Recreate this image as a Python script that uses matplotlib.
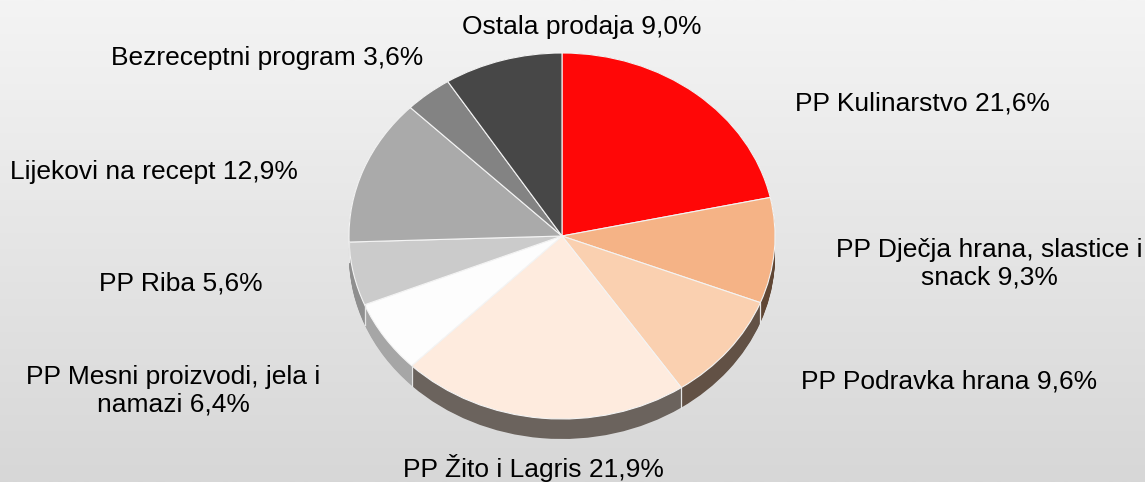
import numpy as np
import matplotlib.pyplot as plt
from matplotlib.colors import to_rgb, LinearSegmentedColormap

# podaci (udio u prodaji, %)
kategorije = ["PP Kulinarstvo", "PP Dječja hrana, slastice i snack", "PP Podravka hrana",
              "PP Žito i Lagris", "PP Mesni proizvodi, jela i namazi", "PP Riba",
              "Lijekovi na recept", "Bezreceptni program", "Ostala prodaja"]
udjeli = [21.6, 9.3, 9.6, 21.9, 6.4, 5.6, 12.9, 3.6, 9.0]
boje = ["#ff0707", "#f5b386", "#fad0b0", "#feebde", "#fdfdfd",
        "#cbcbcb", "#aaaaaa", "#838383", "#474747"]
oznake = ["PP Kulinarstvo 21,6%", "PP Dječja hrana, slastice i\nsnack 9,3%",
          "PP Podravka hrana 9,6%", "PP Žito i Lagris 21,9%",
          "PP Mesni proizvodi, jela i\nnamazi 6,4%", "PP Riba 5,6%",
          "Lijekovi na recept 12,9%", "Bezreceptni program 3,6%", "Ostala prodaja 9,0%"]
# pozicije oznaka u pikselima (sredina teksta, y od vrha)
pozicije = [(922, 103), (989, 264), (949, 382), (533, 468), (173, 391),
            (181, 284), (154, 172), (267, 58), (582, 27)]

W, H = 1145, 482
fig = plt.figure(figsize=(W / 100, H / 100), dpi=100)

# pozadina s gradijentom
bg = fig.add_axes([0, 0, 1, 1])
grad = np.linspace(0, 1, 256).reshape(-1, 1)
cmap = LinearSegmentedColormap.from_list("bg", ["#f4f4f4", "#d7d7d7"])
bg.imshow(grad, cmap=cmap, aspect="auto", extent=[0, W, H, 0])
bg.set_xlim(0, W)
bg.set_ylim(H, 0)
bg.axis("off")

# geometrija "3D" tortnog grafikona
rx, ry, dub = 213, 183, 20
cx, vrh = 562, 53
pie_ax = fig.add_axes([(cx - rx) / W, (H - (vrh + 2 * ry + dub)) / H,
                       2 * rx / W, (2 * ry + dub) / H])
d = dub / ry

# boje bocnih strana (lijevo svjetlije, desno tamnije)
kum = np.cumsum(udjeli)
sred = np.radians(90 - 360 * (kum - np.array(udjeli) / 2) / kum[-1])
boje_strana = [tuple(np.array(to_rgb(b)) * (0.39 - 0.32 * min(np.cos(a), 0)))
               for b, a in zip(boje, sred)]

for t in np.linspace(d, 0, 25):
    pie_ax.pie(udjeli, colors=boje_strana, startangle=90, counterclock=False,
               center=(0, -t), wedgeprops=dict(linewidth=0))

# svijetle crte na bocnoj strani izmedju kriski
granice = np.radians(90 - 360 * kum / kum[-1])
for a in granice:
    if np.sin(a) < 0:
        pie_ax.plot([np.cos(a)] * 2, [np.sin(a), np.sin(a) - d], color="#e6e6e6", lw=0.9)

pie_ax.pie(udjeli, colors=boje, startangle=90, counterclock=False,
           wedgeprops=dict(linewidth=0.8, edgecolor="#f4f4f4"))
pie_ax.set_aspect("auto")
pie_ax.set_xlim(-1, 1)
pie_ax.set_ylim(-1 - d, 1)
pie_ax.axis("off")

# oznake
for tekst, (x, y) in zip(oznake, pozicije):
    bg.text(x, y, tekst, ha="center", va="center", fontsize=19,
            family="Liberation Sans", linespacing=1.2, color="black")

plt.savefig("out.png", dpi=100)
